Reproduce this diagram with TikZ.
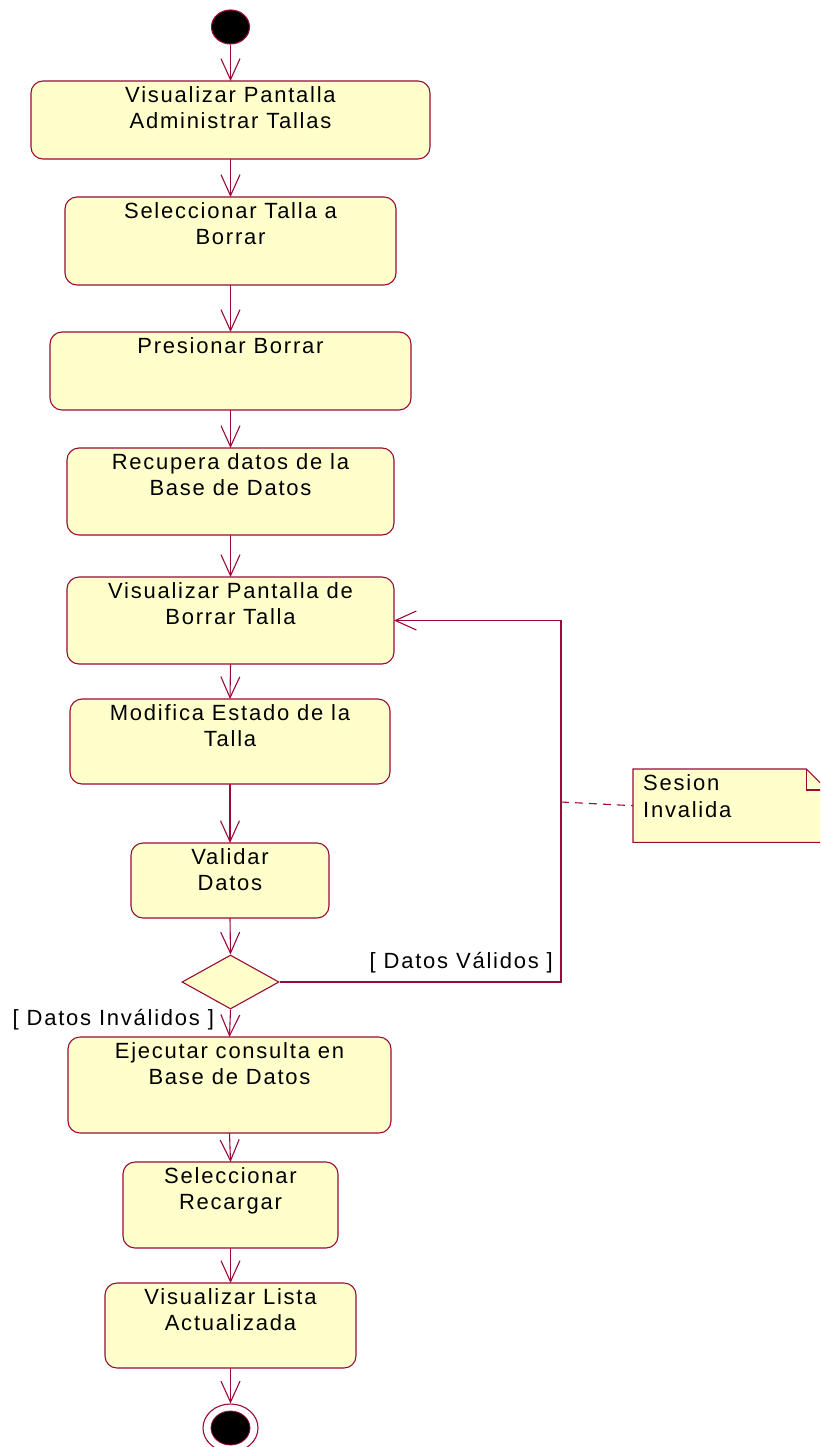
\documentclass[tikz,border=0pt]{standalone}
\usepackage{fontspec}
\setmainfont{Liberation Sans}[LetterSpace=8]
\usetikzlibrary{arrows.meta,shapes.geometric}
\definecolor{umlline}{RGB}{155,10,55}
\definecolor{umlfill}{RGB}{255,255,204}
\tikzset{
  actbox/.style={draw=umlline, fill=umlfill, rounded corners=12pt, line width=1.1pt, inner sep=0pt, outer sep=0pt},
  boxtext/.style={anchor=north, align=center, inner sep=0pt, font=\fontsize{22}{26.5}\selectfont},
  lbl/.style={inner sep=0pt, font=\fontsize{22}{26.5}\selectfont},
  flow/.style={draw=umlline, line width=1.1pt, -{Straight Barb[length=21pt,width=19pt,line width=1.1pt]}},
}
\newcommand\actbox[6]{%
  \node[actbox, minimum width={(#4-#2)*1pt}, minimum height={(#5-#3)*1pt}] (#1) at ({(#2+#4)/2},{(#3+#5)/2}) {};
  \node[boxtext] (#1t) at ([yshift=-4pt]#1.north) {\rule{0pt}{17pt}#6};
}
\begin{document}
\begin{tikzpicture}[x=1pt,y=-1pt]
\useasboundingbox (0,0) rectangle (820,1447);
\clip (0,0) rectangle (820,1447);

\node[ellipse, fill=black, draw=umlline, line width=1.1pt, minimum width=38pt, minimum height=34pt, inner sep=0pt] (start) at (230.5,27) {};

\actbox{b1}{31}{81}{430}{159}{Visualizar Pantalla\\Administrar Tallas}
\actbox{b2}{65}{197}{396}{285}{Seleccionar Talla a\\Borrar}
\actbox{b3}{50}{332}{411}{410}{Presionar Borrar}
\actbox{b4}{67}{448}{394}{535}{Recupera datos de la\\Base de Datos}
\actbox{b5}{67}{577}{394}{664}{Visualizar Pantalla de\\Borrar Talla}
\actbox{b6}{70}{699}{390}{784}{Modifica Estado de la\\Talla}
\actbox{b7}{131}{843}{329}{918}{Validar\\Datos}
\actbox{b8}{68}{1037}{391}{1133}{Ejecutar consulta en\\Base de Datos}
\actbox{b9}{123}{1162}{338}{1248}{Seleccionar\\Recargar}
\actbox{b10}{105}{1283}{356}{1368}{Visualizar Lista\\Actualizada}

\node[diamond, draw=umlline, fill=umlfill, line width=1.1pt, minimum width=97pt, minimum height=54pt, inner sep=0pt] (dec) at (230.5,982) {};

\node[ellipse, draw=umlline, fill=white, line width=1.1pt, minimum width=55pt, minimum height=48pt, inner sep=0pt] (endo) at (230.5,1428) {};
\node[ellipse, fill=black, draw=umlline, line width=0.8pt, minimum width=39pt, minimum height=34pt, inner sep=0pt] (endi) at (230.5,1428) {};

\draw[flow] (start.south) -- (b1.north);
\draw[flow] (b1.south) -- (b2.north);
\draw[flow] (b2.south) -- (b3.north);
\draw[flow] (b3.south) -- (b4.north);
\draw[flow] (b4.south) -- (b5.north);
\draw[flow] (b5.south) -- (b6.north);
\draw[flow] (b6.south) -- (b7.north);
\draw[flow] (b7.south) -- (dec.north);
\draw[flow] (dec.south) -- (b8.north);
\draw[flow] (b8.south) -- (b9.north);
\draw[flow] (b9.south) -- (b10.north);
\draw[flow] (b10.south) -- (endo.north);

\coordinate (loopc) at (561,982);
\draw[flow] (dec.east) -- (loopc) |- (b5.east);

\node[lbl, anchor=base east] (valid) at (553,968.5) {[ Datos Válidos ]};
\node[lbl, anchor=base west] (invalid) at (12.5,1025) {[ Datos Inválidos ]};

% note
\node[inner sep=0pt, minimum width=194pt, minimum height=73pt, anchor=north west] (note) at (633,769) {};
\draw[draw=umlline, fill=umlfill, line width=1.1pt]
  (note.north west) -- ([xshift=-21pt]note.north east) -- ([yshift=-21pt]note.north east)
  -- (note.south east) -- (note.south west) -- cycle;
\draw[draw=umlline, line width=1.1pt]
  ([xshift=-21pt]note.north east) -- ([xshift=-21pt,yshift=-21pt]note.north east) -- ([yshift=-21pt]note.north east);
\node[lbl, anchor=base west, align=left] (notet) at (643,817) {Sesion\\Invalida};
\coordinate (dashs) at (561,802);
\draw[umlline, line width=1.1pt, dash pattern=on 8pt off 6pt] (dashs) -- (note.west);
\end{tikzpicture}
\end{document}
